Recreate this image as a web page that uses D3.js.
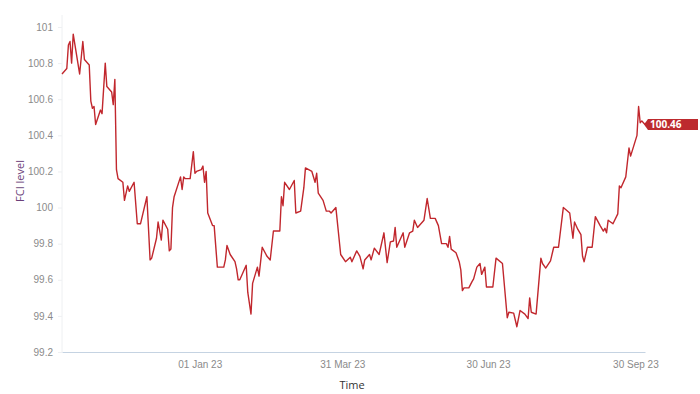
<!DOCTYPE html>
<html>
<head>
<meta charset="utf-8">
<script src="https://cdn.jsdelivr.net/npm/d3@7"></script>
<style>
  body { margin: 0; background: #fff; }
  svg { display: block; font-family: "Open Sans", "Noto Sans", sans-serif; }
</style>
</head>
<body>
<script>
// FCI level series
var dates = [
  "2022-10-07","2022-10-10","2022-10-11","2022-10-12","2022-10-13","2022-10-14","2022-10-18","2022-10-20","2022-10-21","2022-10-24",
  "2022-10-25","2022-10-26","2022-10-27","2022-10-28","2022-10-31","2022-11-01","2022-11-03","2022-11-04","2022-11-07","2022-11-08",
  "2022-11-09","2022-11-10","2022-11-11","2022-11-14","2022-11-15","2022-11-17","2022-11-18","2022-11-21","2022-11-23","2022-11-25",
  "2022-11-29","2022-12-01","2022-12-02","2022-12-05","2022-12-06","2022-12-08","2022-12-09","2022-12-12","2022-12-13","2022-12-14",
  "2022-12-15","2022-12-16","2022-12-20","2022-12-21","2022-12-22","2022-12-23","2022-12-26","2022-12-28","2022-12-29","2022-12-30",
  "2023-01-02","2023-01-03","2023-01-04","2023-01-05","2023-01-06","2023-01-09","2023-01-10","2023-01-12","2023-01-13","2023-01-16",
  "2023-01-17","2023-01-18","2023-01-20","2023-01-23","2023-01-24","2023-01-25","2023-01-26","2023-01-30","2023-01-31","2023-02-02",
  "2023-02-03","2023-02-06","2023-02-07","2023-02-09","2023-02-12","2023-02-14","2023-02-16","2023-02-20","2023-02-21","2023-02-22",
  "2023-02-23","2023-02-26","2023-03-01","2023-03-02","2023-03-05","2023-03-07","2023-03-08","2023-03-12","2023-03-14","2023-03-15",
  "2023-03-16","2023-03-19","2023-03-21","2023-03-23","2023-03-24","2023-03-27","2023-03-30","2023-04-02","2023-04-05","2023-04-06",
  "2023-04-09","2023-04-11","2023-04-13","2023-04-14","2023-04-17","2023-04-18","2023-04-20","2023-04-23","2023-04-26","2023-04-28",
  "2023-04-30","2023-05-02","2023-05-03","2023-05-04","2023-05-08","2023-05-09","2023-05-12","2023-05-14","2023-05-15","2023-05-17",
  "2023-05-21","2023-05-23","2023-05-25","2023-05-28","2023-05-30","2023-06-01","2023-06-04","2023-06-05","2023-06-06","2023-06-07",
  "2023-06-10","2023-06-12","2023-06-13","2023-06-14","2023-06-15","2023-06-18","2023-06-20","2023-06-21","2023-06-23","2023-06-25",
  "2023-06-26","2023-06-28","2023-06-29","2023-07-03","2023-07-05","2023-07-09","2023-07-12","2023-07-13","2023-07-16","2023-07-18",
  "2023-07-20","2023-07-23","2023-07-25","2023-07-26","2023-07-27","2023-07-30","2023-08-02","2023-08-03","2023-08-05","2023-08-08",
  "2023-08-10","2023-08-13","2023-08-16","2023-08-20","2023-08-22","2023-08-23","2023-08-25","2023-08-27","2023-08-28","2023-08-29",
  "2023-08-31","2023-09-03","2023-09-05","2023-09-08","2023-09-10","2023-09-11","2023-09-12","2023-09-13","2023-09-16","2023-09-19",
  "2023-09-20","2023-09-21","2023-09-24","2023-09-26","2023-09-27","2023-10-01","2023-10-02","2023-10-03","2023-10-04","2023-10-05",
  "2023-10-06"
];
var fci = [
  100.74,100.77,100.90,100.92,100.80,100.96,100.74,100.92,100.82,100.79,
  100.59,100.55,100.56,100.46,100.54,100.52,100.80,100.67,100.64,100.57,
  100.71,100.21,100.16,100.14,100.04,100.12,100.09,100.14,99.91,99.91,
  100.06,99.71,99.72,99.83,99.92,99.82,99.93,99.88,99.76,99.77,
  100.00,100.06,100.17,100.10,100.17,100.16,100.16,100.31,100.19,100.20,
  100.21,100.23,100.14,100.20,99.97,99.90,99.90,99.67,99.67,99.67,
  99.71,99.79,99.74,99.70,99.66,99.60,99.60,99.68,99.53,99.41,
  99.58,99.67,99.62,99.78,99.73,99.71,99.87,99.87,100.06,100.01,
  100.14,100.10,100.15,99.97,99.98,100.11,100.22,100.20,100.14,100.19,
  100.08,100.04,99.98,99.98,99.97,100.00,99.74,99.70,99.725,99.70,
  99.76,99.73,99.66,99.71,99.74,99.71,99.775,99.74,99.86,99.695,
  99.81,99.815,99.89,99.78,99.86,99.78,99.86,99.87,99.93,99.89,
  99.93,100.05,99.94,99.94,99.90,99.80,99.80,99.78,99.84,99.77,
  99.75,99.70,99.655,99.54,99.555,99.555,99.59,99.605,99.67,99.69,
  99.63,99.67,99.56,99.56,99.72,99.69,99.39,99.42,99.415,99.34,
  99.43,99.41,99.385,99.50,99.42,99.41,99.72,99.69,99.665,99.705,
  99.78,99.78,100.00,99.97,99.83,99.92,99.88,99.85,99.73,99.70,
  99.78,99.78,99.95,99.90,99.87,99.885,99.86,99.93,99.91,99.965,
  100.12,100.11,100.17,100.33,100.285,100.40,100.56,100.47,100.48,100.47,
  100.46
];
var xTickDates = ["2023-01-01", "2023-03-31", "2023-06-30", "2023-09-30"];
var xTickLabels = ["01 Jan 23", "31 Mar 23", "30 Jun 23", "30 Sep 23"];
var yTicks = [99.2, 99.4, 99.6, 99.8, 100, 100.2, 100.4, 100.6, 100.8, 101];
var lastLabel = "100.46";

var W = 700, H = 394;
var plotL = 62, plotR = 645, plotT = 27, plotB = 352;
var parse = d3.timeParse("%Y-%m-%d");
var lineColor = "#c1272d";

var svg = d3.select("body").append("svg")
  .attr("width", W)
  .attr("height", H);

var x = d3.scaleTime()
  .domain([parse(dates[0]), parse(dates[dates.length - 1])])
  .range([plotL, plotR]);

var y = d3.scaleLinear()
  .domain([99.2, 101])
  .range([plotB, plotT]);

var data = dates.map(function (d, i) { return { date: parse(d), v: fci[i] }; });

// y axis: faint line, short tick marks, grey labels
var yAxis = svg.append("g")
  .attr("transform", "translate(" + plotL + ",0)")
  .call(d3.axisLeft(y).tickValues(yTicks).tickSize(4).tickPadding(5)
    .tickFormat(d3.format(".1~f")));
yAxis.select(".domain").remove();
yAxis.selectAll(".tick line").attr("stroke", "#eef0f2");
yAxis.selectAll(".tick text")
  .attr("fill", "#8a8a8a")
  .style("font-size", "10px");
svg.append("line")
  .attr("x1", plotL).attr("x2", plotL)
  .attr("y1", 15).attr("y2", plotB)
  .attr("stroke", "#eef0f2");

// x axis
var xAxis = svg.append("g")
  .attr("transform", "translate(0," + plotB + ")")
  .call(d3.axisBottom(x).tickValues(xTickDates.map(parse)).tickSize(0).tickPadding(9)
    .tickFormat(function (d, i) { return xTickLabels[i]; }));
xAxis.select(".domain").attr("stroke", "#c5d3e2");
xAxis.selectAll(".tick text")
  .attr("fill", "#8a8a8a")
  .style("font-size", "10px");

// axis titles
svg.append("text")
  .attr("transform", "translate(24,181) rotate(-90)")
  .attr("text-anchor", "middle")
  .attr("fill", "#6b3f7a")
  .style("font-size", "11px")
  .text("FCI level");

svg.append("text")
  .attr("x", 352).attr("y", 389)
  .attr("text-anchor", "middle")
  .attr("fill", "#333")
  .style("font-size", "11px")
  .text("Time");

// series
var line = d3.line()
  .x(function (d) { return x(d.date); })
  .y(function (d) { return y(d.v); });

svg.append("path")
  .datum(data)
  .attr("fill", "none")
  .attr("stroke", lineColor)
  .attr("stroke-width", 1.4)
  .attr("stroke-linejoin", "round")
  .attr("d", line);

// last value flag
var last = data[data.length - 1];
var lx = x(last.date), ly = y(last.v);
svg.append("path")
  .attr("d", "M" + (lx - 1) + "," + ly +
    "L" + (lx + 3) + "," + (ly - 5.5) + "L" + 698 + "," + (ly - 5.5) +
    "L" + 698 + "," + (ly + 5.5) + "L" + (lx + 3) + "," + (ly + 5.5) + "Z")
  .attr("fill", "#bd2a2e");
svg.append("text")
  .attr("x", lx + 5).attr("y", ly + 3.8)
  .attr("fill", "#fff")
  .style("font-size", "10px")
  .style("font-weight", "bold")
  .text(lastLabel);
</script>
</body>
</html>
